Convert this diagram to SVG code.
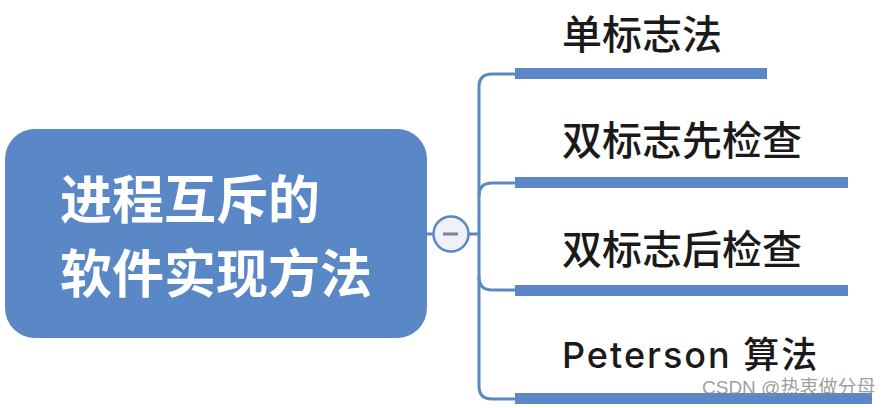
<svg xmlns="http://www.w3.org/2000/svg" width="889" height="408" viewBox="0 0 889 408">
<style>
.conn{fill:none;stroke:#5b87c6;stroke-width:3;stroke-linecap:round}
.bar{fill:#5b87c6}
.lbl{font-family:"Noto Sans CJK SC","Liberation Sans",sans-serif;font-size:40px;font-weight:500;fill:#1a1a1a}
.main{font-family:"Noto Sans CJK SC","Liberation Sans",sans-serif;font-size:52px;font-weight:bold;fill:#ffffff}
</style>
<rect width="889" height="408" fill="#ffffff"/>
<g id="connectors">
<line class="conn" x1="427" y1="234" x2="434" y2="234"/>
<line class="conn" x1="468" y1="234" x2="479" y2="234"/>
<path class="conn" d="M515,74 L492,74 Q479,74 479,87 L479,386 Q479,399 492,399 L515,399"/>
<path class="conn" d="M479,196 Q479,183 492,183 L515,183"/>
<path class="conn" d="M479,277 Q479,290 492,290 L515,290"/>
</g>
<g id="root">
<rect x="5" y="129" width="422" height="209" rx="30" ry="30" fill="#5a88c6"/>
<text class="main" x="60" y="219">进程互斥的</text>
<text class="main" x="60" y="293">软件实现方法</text>
</g>
<g id="collapse">
<circle cx="451" cy="234" r="17.5" fill="#eef1f8" stroke="#5b87c6" stroke-width="2.5"/>
<line x1="443" y1="234" x2="458" y2="234" stroke="#7d7fa8" stroke-width="3"/>
</g>
<g id="n1">
<rect class="bar" x="515" y="68" width="252" height="11"/>
<text class="lbl" x="562" y="49">单标志法</text>
</g>
<g id="n2">
<rect class="bar" x="515" y="177" width="333" height="11"/>
<text class="lbl" x="562" y="155">双标志先检查</text>
</g>
<g id="n3">
<rect class="bar" x="515" y="285" width="333" height="11"/>
<text class="lbl" x="562" y="264">双标志后检查</text>
</g>
<g id="n4">
<rect class="bar" x="515" y="393" width="357" height="11"/>
<text class="lbl" x="562" y="368" style="font-family:Inter,'Noto Sans CJK SC',sans-serif;font-size:36px;letter-spacing:2px">Peterson 算法</text>
</g>
<text x="702" y="394" font-family="'Liberation Sans','Noto Sans CJK SC',sans-serif" font-size="19" fill="#8c8c8c" fill-opacity="0.85">CSDN @热衷做分母</text>
</svg>
